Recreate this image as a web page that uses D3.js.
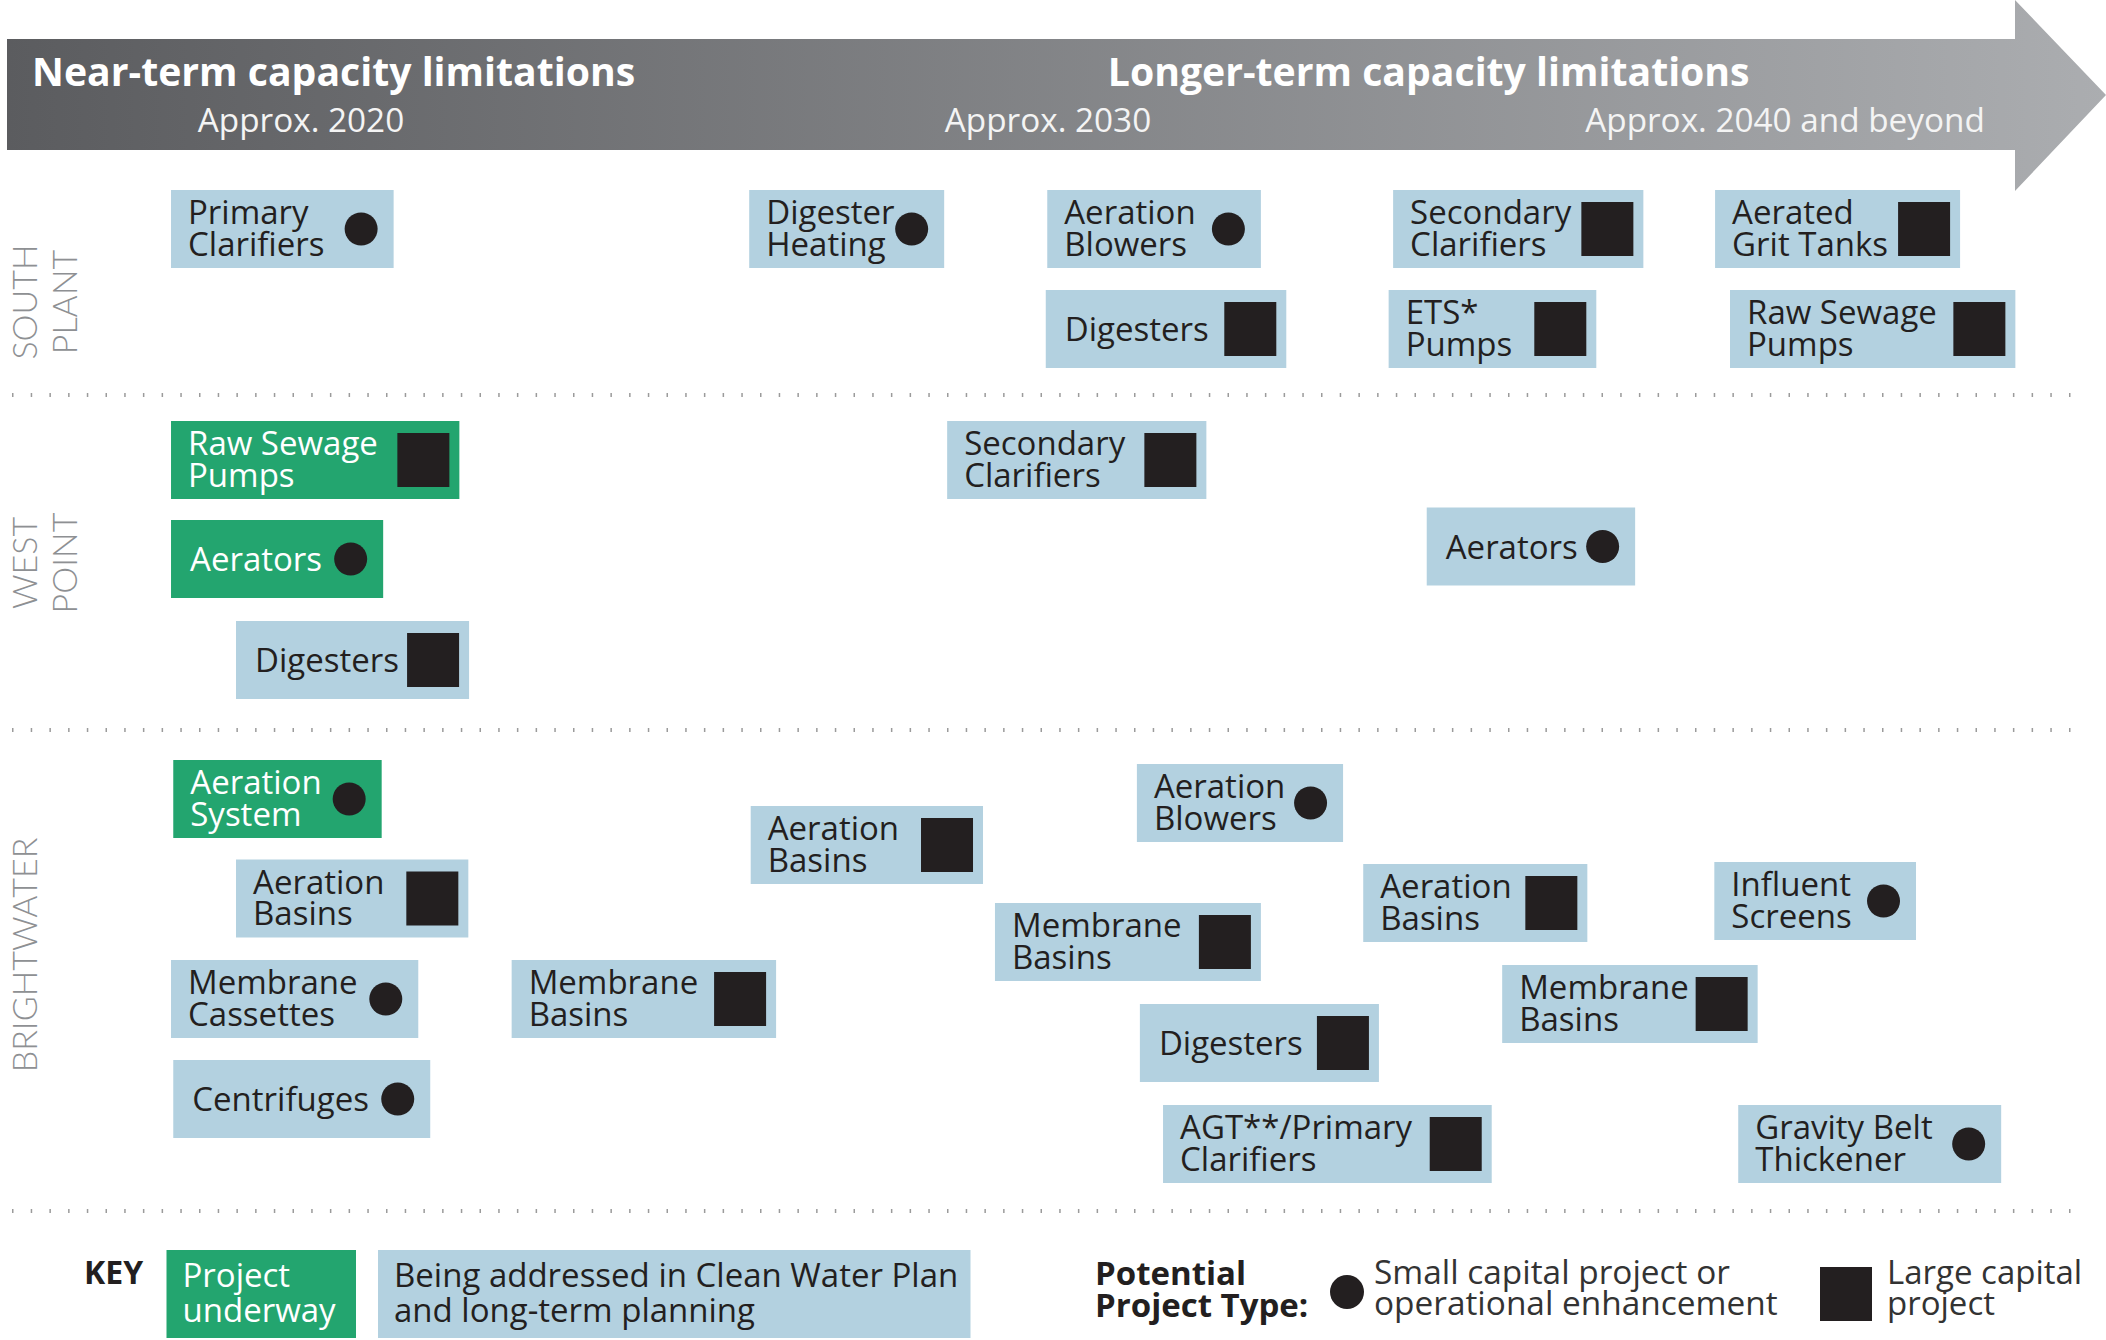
<!DOCTYPE html>
<html>
<head>
<meta charset="utf-8">
<script src="https://cdn.jsdelivr.net/npm/d3@7"></script>
<style>
  body { margin: 0; background: #fff; }
  svg { display: block; font-family: "Open Sans", sans-serif; }
</style>
</head>
<body>
<div id="chart"></div>
<script>
// plants (row groups) and where their labels / dividers sit, in lane units
var plants = ["SOUTH PLANT", "WEST POINT", "BRIGHTWATER"];
var plantLabelLane = [0.73, 3.34, 7.26];
var dividerLane = [1.66, 5.01, 9.82];

// timeline header
var periods = ["Near-term capacity limitations", "Longer-term capacity limitations"];
var periodStart = [2016.4, 2030.8];
var tickYears = [2020, 2030, 2040];
var tickLabels = ["Approx. 2020", "Approx. 2030", "Approx. 2040 and beyond"];

// projects
var projectNames = [
  "Primary\nClarifiers", "Digester\nHeating", "Aeration\nBlowers", "Digesters",
  "Secondary\nClarifiers", "ETS*\nPumps", "Aerated\nGrit Tanks", "Raw Sewage\nPumps",
  "Raw Sewage\nPumps", "Aerators", "Digesters", "Secondary\nClarifiers", "Aerators",
  "Aeration\nSystem", "Aeration\nBasins", "Membrane\nCassettes", "Centrifuges",
  "Membrane\nBasins", "Aeration\nBasins", "Membrane\nBasins", "Aeration\nBlowers",
  "Digesters", "AGT**/Primary\nClarifiers", "Aeration\nBasins", "Membrane\nBasins",
  "Influent\nScreens", "Gravity Belt\nThickener"
];
var projectPlant = [
  0, 0, 0, 0, 0, 0, 0, 0,
  1, 1, 1, 1, 1,
  2, 2, 2, 2, 2, 2, 2, 2, 2, 2, 2, 2, 2, 2
];
// 1 = project underway, 0 = being addressed in planning
var underway = [
  0, 0, 0, 0, 0, 0, 0, 0,
  1, 1, 0, 0, 0,
  1, 0, 0, 0, 0, 0, 0, 0, 0, 0, 0, 0, 0, 0
];
// "small" = small capital / operational, "large" = large capital
var projectType = [
  "small", "small", "small", "large", "large", "large", "large", "large",
  "large", "small", "large", "large", "small",
  "small", "large", "small", "small", "large", "large", "large", "small",
  "large", "large", "large", "large", "small", "small"
];
var startYear = [
  2018.26, 2026.00, 2029.99, 2029.97, 2034.62, 2034.56, 2038.93, 2039.13,
  2018.26, 2018.26, 2019.13, 2028.65, 2035.07,
  2018.29, 2019.13, 2018.26, 2018.29, 2022.82, 2026.02, 2029.29, 2031.19,
  2031.23, 2031.54, 2034.22, 2036.08, 2038.92, 2039.24
];
var endYear = [
  2021.24, 2028.61, 2032.85, 2033.19, 2037.97, 2037.34, 2042.21, 2042.95,
  2022.12, 2021.10, 2022.25, 2032.12, 2037.86,
  2021.08, 2022.24, 2021.57, 2021.73, 2026.36, 2029.13, 2032.85, 2033.95,
  2034.43, 2035.94, 2037.22, 2039.50, 2041.62, 2042.76
];
var lane = [
  0, 0, 0, 1, 0, 1, 0, 1,
  2.31, 3.30, 4.31, 2.31, 3.175,
  5.70, 6.695, 7.70, 8.70, 7.70, 6.16, 7.13, 5.74,
  8.14, 9.15, 6.74, 7.75, 6.72, 9.15
];

var projects = projectNames.map(function(name, i) {
  return {
    lines: name.split("\n"),
    plant: plants[projectPlant[i]],
    underway: underway[i] === 1,
    type: projectType[i],
    start: startYear[i],
    end: endYear[i],
    lane: lane[i]
  };
});

var svgWidth = 2106;
var svgHeight = 1340;
var boxH = 78;
var green = "#23a56f";
var blue = "#b3d1e0";
var ink = "#231f20";

var svg = d3.select("#chart")
  .append("svg")
  .attr("width", svgWidth)
  .attr("height", svgHeight);

var x = d3.scaleLinear().domain([2020, 2030]).range([301, 1048]);
var y = d3.scaleLinear().domain([0, 1]).range([229, 329]);

// header arrow
var grad = svg.append("defs").append("linearGradient")
  .attr("id", "hdr")
  .attr("x1", "0%").attr("x2", "100%");
grad.append("stop").attr("offset", "0%").attr("stop-color", "#5b5c5f");
grad.append("stop").attr("offset", "100%").attr("stop-color", "#abadb0");

svg.append("path")
  .attr("d", "M7,39 H2015 V0 L2106,95 L2015,191 V150 H7 Z")
  .attr("fill", "url(#hdr)");

svg.selectAll("text.period")
  .data(periods)
  .enter()
  .append("text")
  .attr("class", "period")
  .attr("x", (d, i) => x(periodStart[i]))
  .attr("y", 86)
  .attr("fill", "#fff")
  .attr("font-size", "39.2px")
  .attr("font-weight", 700)
  .text(d => d);

svg.selectAll("text.tick")
  .data(tickLabels)
  .enter()
  .append("text")
  .attr("class", "tick")
  .attr("x", (d, i) => x(tickYears[i]))
  .attr("dx", (d, i) => i === 2 ? -10 : 0)
  .attr("y", 132)
  .attr("text-anchor", "middle")
  .attr("fill", "#f4f4f4")
  .attr("font-size", "33.3px")
  .text(d => d);

// dotted dividers
svg.selectAll("line.divider")
  .data(dividerLane)
  .enter()
  .append("line")
  .attr("class", "divider")
  .attr("x1", 12).attr("x2", 2082)
  .attr("y1", d => y(d)).attr("y2", d => y(d))
  .attr("stroke", "#9b9b9b")
  .attr("stroke-width", 4)
  .attr("stroke-dasharray", "1.5 17.2");

// plant labels, rotated
var plantLabels = svg.selectAll("g.plant")
  .data(plants)
  .enter()
  .append("g")
  .attr("class", "plant")
  .attr("transform", (d, i) => `translate(37, ${y(plantLabelLane[i])}) rotate(-90)`);

plantLabels.each(function(d) {
  var words = d.split(" ");
  var t = d3.select(this).append("text")
    .attr("text-anchor", "middle")
    .attr("fill", "#8e9093")
    .attr("font-family", "Lato, 'Open Sans', sans-serif")
    .attr("font-weight", 300)
    .attr("font-size", "34px");
  words.forEach(function(w, j) {
    t.append("tspan").attr("x", 0).attr("y", j * 40).text(w);
  });
});

// project boxes
var boxes = svg.selectAll("g.project")
  .data(projects)
  .enter()
  .append("g")
  .attr("class", "project")
  .attr("transform", d => `translate(${x(d.start)}, ${y(d.lane) - boxH / 2})`);

boxes.append("rect")
  .attr("width", d => x(d.end) - x(d.start))
  .attr("height", boxH)
  .attr("fill", d => d.underway ? green : blue);

boxes.each(function(d) {
  var g = d3.select(this);
  var w = x(d.end) - x(d.start);
  var t = g.append("text")
    .attr("fill", d.underway ? "#fff" : ink)
    .attr("font-size", "33px");
  if (d.lines.length === 1) {
    t.append("tspan").attr("x", 19).attr("y", 51).text(d.lines[0]);
  } else {
    d.lines.forEach(function(l, j) {
      t.append("tspan").attr("x", 17).attr("y", 34 + j * 31.5).text(l);
    });
  }
  if (d.type === "small") {
    g.append("circle")
      .attr("cx", w - 32.5)
      .attr("cy", boxH / 2)
      .attr("r", 16.5)
      .attr("fill", ink);
  } else {
    g.append("rect")
      .attr("x", w - 62)
      .attr("y", boxH / 2 - 27)
      .attr("width", 52)
      .attr("height", 54)
      .attr("fill", ink);
  }
});

// key
var key = svg.append("g").attr("class", "key");

key.append("text")
  .attr("x", 84).attr("y", 1284)
  .attr("font-size", "32px").attr("font-weight", 700).attr("fill", ink)
  .text("KEY");

var keyBoxes = [
  { x0: 166.5, x1: 356, fill: green, color: "#fff", lines: ["Project", "underway"] },
  { x0: 378, x1: 970.5, fill: blue, color: ink, lines: ["Being addressed in Clean Water Plan", "and long-term planning"] }
];

keyBoxes.forEach(function(k) {
  key.append("rect")
    .attr("x", k.x0).attr("y", 1250)
    .attr("width", k.x1 - k.x0).attr("height", 88)
    .attr("fill", k.fill);
  var t = key.append("text").attr("fill", k.color).attr("font-size", "33px");
  k.lines.forEach(function(l, j) {
    t.append("tspan").attr("x", k.x0 + 16).attr("y", 1287 + j * 35).text(l);
  });
});

var tt = key.append("text").attr("fill", ink).attr("font-size", "33px").attr("font-weight", 700);
tt.append("tspan").attr("x", 1095).attr("y", 1285).text("Potential");
tt.append("tspan").attr("x", 1095).attr("y", 1317).text("Project Type:");

key.append("circle").attr("cx", 1347).attr("cy", 1292).attr("r", 17).attr("fill", ink);
var st = key.append("text").attr("fill", "#333").attr("font-size", "33.4px");
st.append("tspan").attr("x", 1374).attr("y", 1284).text("Small capital project or");
st.append("tspan").attr("x", 1374).attr("y", 1315).text("operational enhancement");

key.append("rect").attr("x", 1820).attr("y", 1267).attr("width", 52).attr("height", 54).attr("fill", ink);
var lt = key.append("text").attr("fill", "#333").attr("font-size", "33px");
lt.append("tspan").attr("x", 1887).attr("y", 1284).text("Large capital");
lt.append("tspan").attr("x", 1887).attr("y", 1315).text("project");
</script>
</body>
</html>
